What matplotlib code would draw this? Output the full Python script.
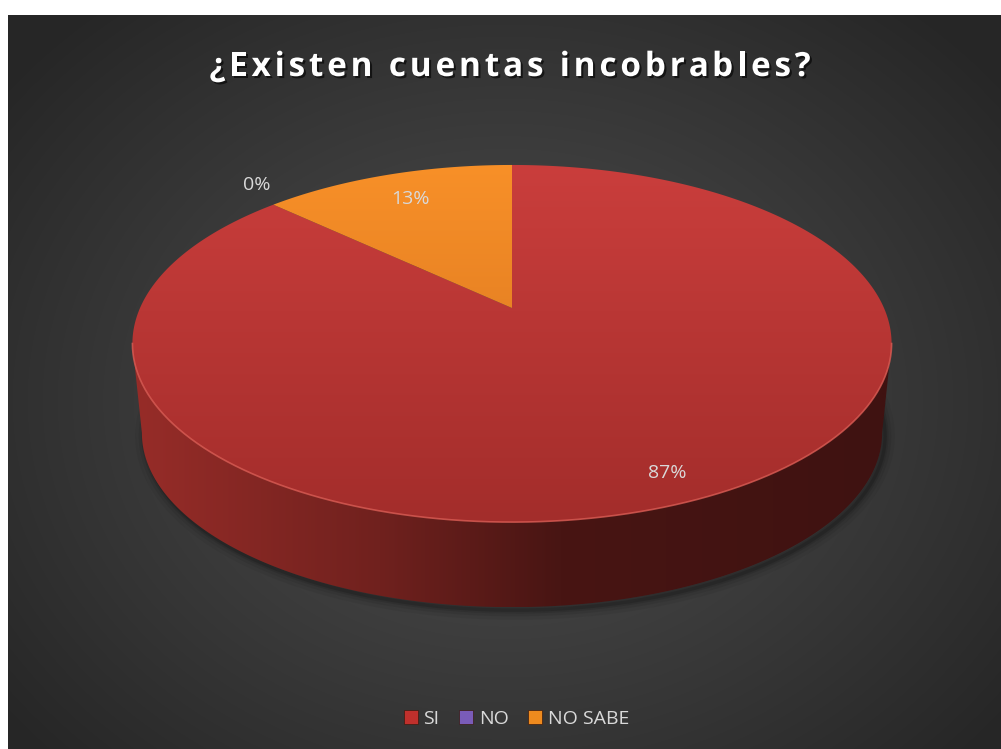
import numpy as np
import matplotlib.pyplot as plt
from matplotlib.patches import Polygon, Patch
from matplotlib import patheffects as pe
from matplotlib.font_manager import FontProperties

plt.rcParams['font.family'] = ['Open Sans', 'DejaVu Sans']

# data
categories = ['SI', 'NO', 'NO SABE']
values = [87, 0, 13]
title = '¿Existen cuentas incobrables?'

# colours (top face light / dark, legend)
top_light = [(202, 62, 60), (140, 100, 200), (248, 144, 40)]
top_dark = [(163, 45, 43), (110, 80, 170), (210, 112, 30)]
legend_cols = ['#c0302c', '#7a5cb8', '#ee8a1e']

W, H = 1001, 749
fig = plt.figure(figsize=(W / 100, H / 100), dpi=100)
fig.patch.set_facecolor('white')
ax = fig.add_axes([0, 0, 1, 1])
ax.set_xlim(0, W)
ax.set_ylim(H, 0)
ax.axis('off')

# background, radial gradient
yy, xx = np.mgrid[15:H, 8:W]
d = np.sqrt(((xx - 505) / 640.0) ** 2 + ((yy - 400) / 520.0) ** 2)
g = (78 - 40 * np.clip(d, 0, 1) ** 1.1) / 255.0
bg = np.dstack([g, g, g])
ax.imshow(bg, extent=(8, W, H, 15), aspect='auto', zorder=0)

# pie geometry (perspective of a tilted disc)
CX, CY = 512, 308
A, B, K = 372.0, 171.5, 0.199
DEPTH, BSCALE = 90.4, 0.975


def proj(theta, r=1.0, scale=1.0, dy=0.0):
    X = r * np.cos(theta)
    Y = r * np.sin(theta)
    den = 1 + K * Y
    return CX + scale * A * X / den, CY + dy - scale * B * Y / den


def grad_fill(verts, xs, cols, vertical=True, z=2):
    poly = Polygon(verts, closed=True, facecolor='none', edgecolor='none')
    ax.add_patch(poly)
    x0, y0 = verts.min(0)
    x1, y1 = verts.max(0)
    n = 300
    if vertical:
        t = np.linspace(y0, y1, n)
    else:
        t = np.linspace(x0, x1, n)
    cols = np.array(cols, float) / 255.0
    c = np.stack([np.interp(t, xs, cols[:, i]) for i in range(3)], axis=1)
    img = c[:, None, :] if vertical else c[None, :, :]
    im = ax.imshow(img, extent=(x0, x1, y1, y0), aspect='auto',
                   interpolation='bilinear', zorder=z)
    im.set_clip_path(poly)


# slice angles, clockwise from 12 o'clock
fr = np.array(values, float) / sum(values)
cum = np.concatenate([[0], np.cumsum(fr)])
th_start = np.pi / 2 - 2 * np.pi * cum[:-1]
th_end = np.pi / 2 - 2 * np.pi * cum[1:]

# shadow under the pie
ts = np.linspace(0, 2 * np.pi, 400)
bx, by = proj(ts, scale=BSCALE, dy=DEPTH)
for lw, al in [(14, 0.05), (9, 0.07), (5, 0.10), (2.5, 0.14)]:
    ax.plot(bx + 3, by + 3, color='black', lw=lw, alpha=al, zorder=1,
            solid_joinstyle='round')

# side wall (front, visible part)
a0 = np.pi + np.arcsin(K)
a1 = 2 * np.pi - np.arcsin(K)
side_x = [140, 380, 560, 880]
side_c = [(150, 44, 40), (112, 33, 30), (72, 21, 19), (63, 18, 17)]
for i in range(len(values)):
    if fr[i] == 0:
        continue
    lo, hi = th_end[i], th_start[i]
    for shift in (0, 2 * np.pi, -2 * np.pi):
        s0, s1 = max(lo + shift, a0), min(hi + shift, a1)
        if s1 > s0:
            t = np.linspace(s0, s1, 200)
            tx, ty = proj(t)
            ux, uy = proj(t[::-1], scale=BSCALE, dy=DEPTH)
            verts = np.column_stack([np.concatenate([tx, ux]),
                                     np.concatenate([ty, uy])])
            grad_fill(verts, side_x, side_c, vertical=False, z=2)

# top face slices
for i in range(len(values)):
    if fr[i] == 0:
        continue
    t = np.linspace(th_start[i], th_end[i], 300)
    px, py = proj(t)
    verts = np.column_stack([np.concatenate([[CX], px]),
                             np.concatenate([[CY], py])])
    grad_fill(verts, [165, 522], [top_light[i], top_dark[i]], z=3)

# light rim along the front of the top face
t = np.linspace(a0, a1, 200)
rx, ry = proj(t)
ax.plot(rx, ry, color=(0.86, 0.36, 0.33), lw=1.2, alpha=0.8, zorder=4)

# percentage labels
lab_r = [0.88, 1.08, 0.79]
lab_dy = [0, -12, 0]
for i, v in enumerate(values):
    mid = (th_start[i] + th_end[i]) / 2
    lx, ly = proj(mid, r=lab_r[i])
    ax.text(lx, ly + lab_dy[i], f'{v}%', color='#d9d9d9', fontsize=14,
            ha='center', va='center', zorder=6)

# title, drawn letter by letter to get the wide tracking
renderer = fig.canvas.get_renderer()
tprop = FontProperties(family='Open Sans', weight='bold', size=24)


def text_w(s):
    # width in pixels, padded so trailing spaces count
    w1, _, _ = renderer.get_text_width_height_descent(s + 'l', tprop, ismath=False)
    w0, _, _ = renderer.get_text_width_height_descent('l', tprop, ismath=False)
    return w1 - w0


track = 3.8
total = text_w(title) + track * (len(title) - 1)
x_left = 510 - total / 2
shadow = [pe.SimplePatchShadow(offset=(1.5, -1.5), shadow_rgbFace='black', alpha=0.6),
          pe.Normal()]
for j, ch in enumerate(title):
    if ch == ' ':
        continue
    xj = x_left + text_w(title[:j]) + track * j
    ax.text(xj, 76, ch, color='white', fontproperties=tprop,
            ha='left', va='baseline', zorder=6, path_effects=shadow)

# legend
handles = [Patch(facecolor=c, edgecolor='#3a1a10', lw=0.5) for c in legend_cols]
leg = fig.legend(handles, categories, loc='center', bbox_to_anchor=(0.516, 1 - 719 / H),
                 ncol=3, frameon=False, fontsize=14, handlelength=0.72,
                 handleheight=0.72, handletextpad=0.3, columnspacing=1.0)
for tx in leg.get_texts():
    tx.set_color('#d9d9d9')

fig.savefig('out.png', dpi=100, facecolor='white')
